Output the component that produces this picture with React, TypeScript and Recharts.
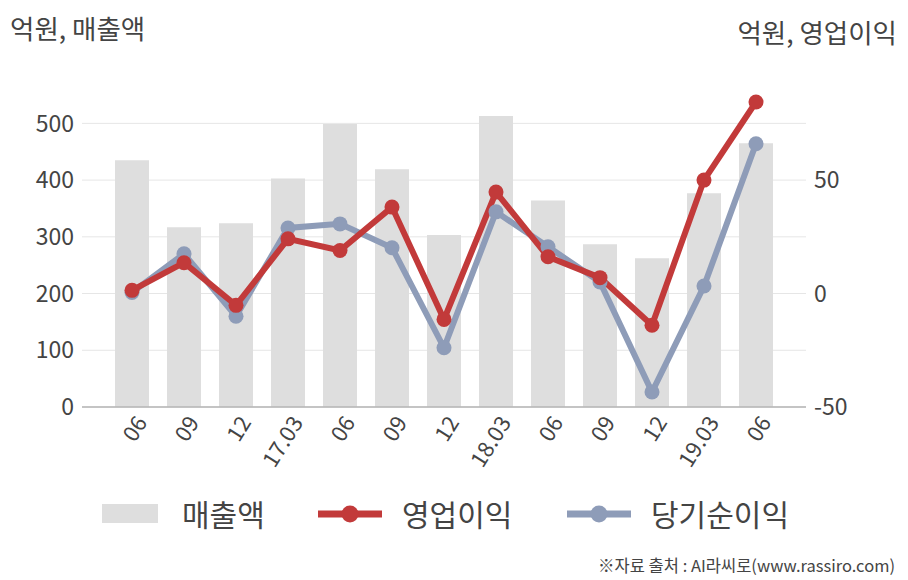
import React from "react";
import {
  Bar,
  CartesianGrid,
  ComposedChart,
  Legend,
  Line,
  XAxis,
  YAxis,
} from "recharts";

const periods = ["06", "09", "12", "17.03", "06", "09", "12", "18.03", "06", "09", "12", "19.03", "06"];
const sales = [435, 317, 324, 403, 499, 419, 303, 513, 364, 287, 262, 377, 465];
const operatingProfit = [1.4, 13.6, -5.2, 24.1, 19.0, 38.1, -11.4, 44.7, 16.2, 7.0, -14.0, 50.0, 84.4];
const netIncome = [0.5, 17.5, -10.0, 28.9, 30.7, 20.2, -23.9, 36.0, 20.6, 5.1, -43.4, 3.3, 66.0];
const leftTicks = [0, 100, 200, 300, 400, 500];
const rightTicks = [-50, 0, 50];

const FONT = '"Noto Sans CJK KR", "Noto Sans", sans-serif';
const TEXT = "#444444";
const RED = "#c23a3a";
const BLUE = "#8e9cb8";
const BAR = "#dedede";

const data = periods.map((p, i) => ({
  period: p,
  sales: sales[i],
  op: operatingProfit[i],
  net: netIncome[i],
}));

function XTick(props: any) {
  const { x, y, payload } = props;
  return (
    <g transform={`translate(${x + 4},${y})`}>
      <text
        x={0}
        y={0}
        dy={14}
        textAnchor="end"
        transform="rotate(-58)"
        fill={TEXT}
        fontSize={22}
        fontFamily={FONT}
      >
        {payload.value}
      </text>
    </g>
  );
}

function renderLegend() {
  const items = [
    { label: "매출액", kind: "bar", color: BAR, x: 102, tx: 182 },
    { label: "영업이익", kind: "line", color: RED, x: 318, tx: 402 },
    { label: "당기순이익", kind: "line", color: BLUE, x: 567, tx: 651 },
  ];
  return (
    <svg width={908} height={50} style={{ display: "block" }}>
      {items.map((it) => (
        <g key={it.label}>
          {it.kind === "bar" ? (
            <rect x={it.x} y={15} width={56} height={19} fill={it.color} />
          ) : (
            <g>
              <line x1={it.x} y1={25} x2={it.x + 64} y2={25} stroke={it.color} strokeWidth={7} />
              <circle cx={it.x + 32} cy={25} r={8.5} fill={it.color} />
            </g>
          )}
          <text x={it.tx} y={37} fontSize={30} fill={TEXT} fontFamily={FONT}>
            {it.label}
          </text>
        </g>
      ))}
    </svg>
  );
}

export default function App() {
  return (
    <div style={{ position: "absolute", left: 0, top: 0, width: 908, height: 580, background: "#fff", fontFamily: FONT }}>
      <div style={{ position: "absolute", left: 10, top: 9, fontSize: 26.5, color: TEXT, lineHeight: 1.4 }}>억원, 매출액</div>
      <div style={{ position: "absolute", right: 11, top: 13, fontSize: 26.5, color: TEXT, lineHeight: 1.4 }}>억원, 영업이익</div>
      <ComposedChart
        width={908}
        height={580}
        data={data}
        margin={{ top: 95, right: 0, bottom: 93, left: 0 }}
      >
        <CartesianGrid
          vertical={false}
          stroke="#e6e6e6"
          yAxisId="left"
          horizontalValues={leftTicks}
        />
        <XAxis
          dataKey="period"
          height={80}
          padding={{ left: 24, right: 24 }}
          tickLine={false}
          axisLine={{ stroke: "#b4b4b4", strokeWidth: 1.5 }}
          interval={0}
          tick={<XTick />}
        />
        <YAxis
          yAxisId="left"
          width={82}
          domain={[0, 550]}
          ticks={leftTicks}
          tickLine={false}
          axisLine={false}
          tick={{ fontSize: 23, fill: TEXT, fontFamily: FONT }}
        />
        <YAxis
          yAxisId="right"
          orientation="right"
          width={102}
          domain={[-50, 87.5]}
          ticks={rightTicks}
          tickLine={false}
          axisLine={false}
          tick={{ fontSize: 23, fill: TEXT, fontFamily: FONT, textAnchor: "start" }}
        />
        <Bar yAxisId="left" dataKey="sales" fill={BAR} barSize={34} isAnimationActive={false} />
        <Line
          yAxisId="right"
          dataKey="net"
          stroke={BLUE}
          strokeWidth={6}
          dot={{ r: 7.5, fill: BLUE, stroke: "none" }}
          activeDot={false}
          isAnimationActive={false}
        />
        <Line
          yAxisId="right"
          dataKey="op"
          stroke={RED}
          strokeWidth={6}
          dot={{ r: 7.5, fill: RED, stroke: "none" }}
          activeDot={false}
          isAnimationActive={false}
        />
        <Legend
          layout="horizontal"
          verticalAlign="middle"
          content={renderLegend}
          wrapperStyle={{ position: "absolute", top: 489, left: 0, width: 908, height: 50 }}
        />
      </ComposedChart>
      <div style={{ position: "absolute", right: 13, top: 554, fontSize: 16.5, color: TEXT, lineHeight: 1.4 }}>
        ※자료 출처 : AI라씨로(www.rassiro.com)
      </div>
    </div>
  );
}
